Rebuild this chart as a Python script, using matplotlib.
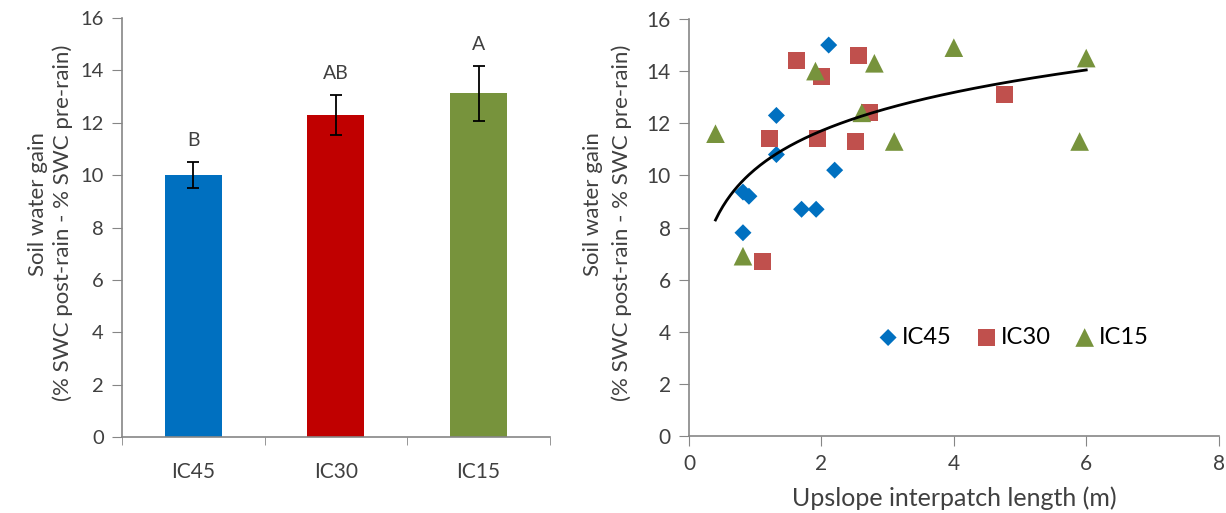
import numpy as np
import matplotlib
matplotlib.use("Agg")
import matplotlib.pyplot as plt

plt.rcParams['font.family'] = ['Lato', 'DejaVu Sans']

# ---- Bar panel data ----
treatments = ["IC45", "IC30", "IC15"]
mean_gain = [10.0, 12.3, 13.13]
se_gain = [0.5, 0.75, 1.05]
letters = ["B", "AB", "A"]
bar_colors = ["#0070C0", "#C00000", "#77933C"]

# ---- Scatter panel data ----
ic45_len = [2.11, 1.32, 1.32, 0.815, 0.905, 1.70, 1.92, 2.20, 0.815]
ic45_gain = [15.0, 12.3, 10.8, 9.36, 9.2, 8.7, 8.7, 10.2, 7.8]
ic30_len = [1.62, 2.56, 2.00, 2.72, 1.21, 1.94, 2.51, 4.76, 1.11]
ic30_gain = [14.4, 14.6, 13.8, 12.4, 11.4, 11.4, 11.3, 13.1, 6.68]
ic15_len = [0.40, 1.91, 2.80, 4.00, 6.00, 2.61, 3.10, 5.90, 0.815]
ic15_gain = [11.6, 14.0, 14.3, 14.9, 14.5, 12.4, 11.3, 11.3, 6.9]

ylabel_lines = ["Soil water gain", "(% SWC post-rain - % SWC pre-rain)"]

axis_grey = "#868686"
text_col = "#404040"

fig = plt.figure(figsize=(12.26, 5.13), dpi=100)


def style_axes(ax):
    for s in ("top", "right"):
        ax.spines[s].set_visible(False)
    for s in ("left", "bottom"):
        ax.spines[s].set_color(axis_grey)
        ax.spines[s].set_linewidth(1.2)


def two_line_ylabel(x1, x2, size):
    # first line sits a little higher than the second
    fig.text(x1, 1 - 204 / 513, ylabel_lines[0], rotation=90, ha="center",
             va="center", fontsize=size, color=text_col)
    fig.text(x2, 1 - 223 / 513, ylabel_lines[1], rotation=90, ha="center",
             va="center", fontsize=size, color=text_col)


# ---------------- Left: bar chart ----------------
ax1 = fig.add_axes([0.0995, 0.148, 0.349, 0.817])
xpos = np.arange(len(treatments))
ax1.bar(xpos, mean_gain, width=0.40, color=bar_colors, zorder=2)
ax1.errorbar(xpos, mean_gain, yerr=se_gain, fmt="none", ecolor="black",
             elinewidth=1.3, capsize=4, capthick=1.3, zorder=3)
for x, m, e, lab in zip(xpos, mean_gain, se_gain, letters):
    ax1.text(x, m + e + 0.5, lab, ha="center", va="bottom",
             fontsize=14, color=text_col)
ax1.set_xlim(-0.5, 2.5)
ax1.set_ylim(0, 16)
ax1.set_yticks(range(0, 17, 2))
ax1.set_xticks(xpos)
ax1.set_xticklabels(treatments, fontsize=15, color=text_col)
ax1.set_xticks([-0.5, 0.5, 1.5, 2.5], minor=True)
ax1.tick_params(axis="x", which="major", length=0, pad=18)
ax1.tick_params(axis="x", which="minor", length=6, color=axis_grey, direction="out")
ax1.tick_params(axis="y", length=7, color=axis_grey, labelsize=14.5,
                labelcolor=text_col, direction="out", pad=6)
style_axes(ax1)
two_line_ylabel(38 / 1226, 63 / 1226, 16)

# ---------------- Right: scatter with log trend ----------------
ax2 = fig.add_axes([0.562, 0.150, 0.432, 0.813])
ax2.scatter(ic45_len, ic45_gain, marker="D", s=75, color="#0070C0",
            edgecolors="none", label="IC45", zorder=3)
ax2.scatter(ic30_len, ic30_gain, marker="s", s=150, color="#C0504D",
            edgecolors="none", label="IC30", zorder=3)
ax2.scatter(ic15_len, ic15_gain, marker="^", s=180, color="#77933C",
            edgecolors="none", label="IC15", zorder=3)

all_len = np.array(ic45_len + ic30_len + ic15_len)
all_gain = np.array(ic45_gain + ic30_gain + ic15_gain)
slope, intercept = np.polyfit(np.log(all_len), all_gain, 1)
xs = np.linspace(all_len.min(), all_len.max(), 200)
ax2.plot(xs, intercept + slope * np.log(xs), color="black", lw=2, zorder=4)

ax2.set_xlim(0, 8)
ax2.set_ylim(0, 16)
ax2.set_xticks(range(0, 9, 2))
ax2.set_yticks(range(0, 17, 2))
ax2.tick_params(axis="both", length=7, color=axis_grey, labelsize=15,
                labelcolor=text_col, direction="out", pad=6)
style_axes(ax2)
ax2.set_xlabel("Upslope interpatch length (m)", fontsize=18, color=text_col, labelpad=9)
two_line_ylabel(593 / 1226, 622 / 1226, 16)
ax2.legend(loc="center", bbox_to_anchor=(0.613, 0.237), ncol=3, frameon=False,
           fontsize=17, handlelength=0.8, handletextpad=0.2, columnspacing=1.05,
           labelcolor="black")

fig.savefig("out.png", dpi=100)
